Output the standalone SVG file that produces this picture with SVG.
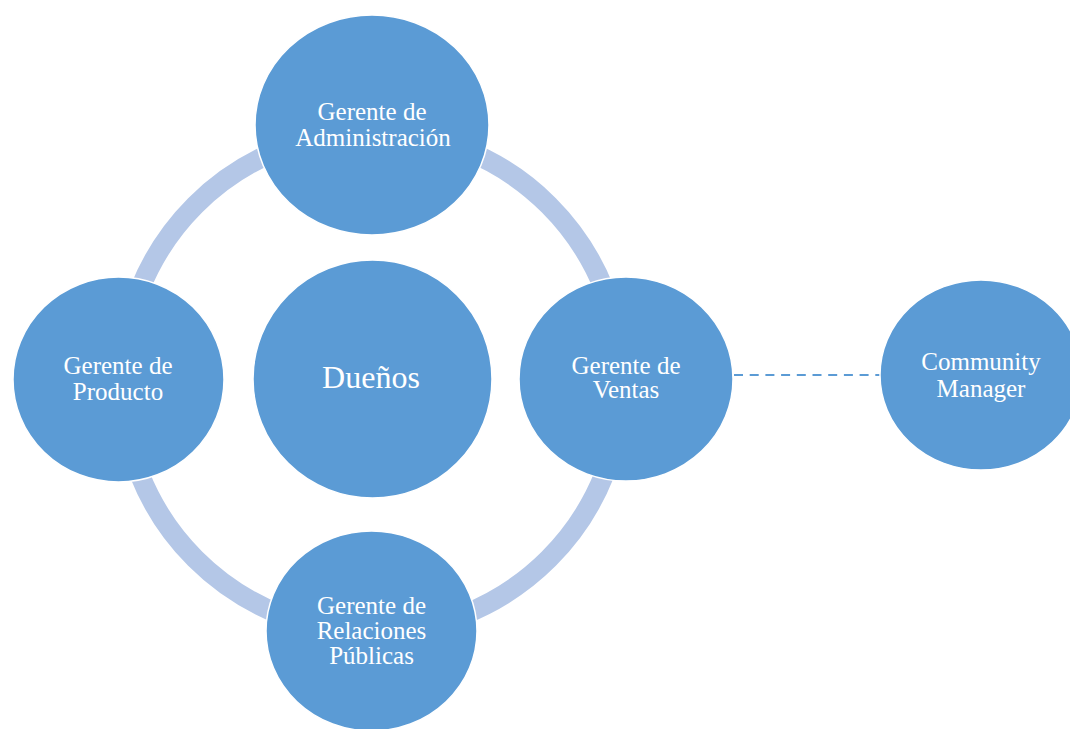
<svg xmlns="http://www.w3.org/2000/svg" width="1070" height="729" viewBox="0 0 1070 729">
  <style>
    .node { fill: #5b9bd5; stroke: #ffffff; stroke-width: 1.5; }
    .label { fill: #ffffff; font-family: "Liberation Serif", "Times New Roman", serif; font-size: 25px; text-anchor: middle; }
    .big { font-size: 32px; }
    .ring { fill: none; stroke: #b4c7e7; stroke-width: 20; }
    .dash { fill: none; stroke: #5b9bd5; stroke-width: 2; stroke-dasharray: 9 6.7; }
  </style>
  <rect width="1070" height="729" fill="#ffffff"/>

  <!-- connectors: the cycle ring and the dashed link to the outside node -->
  <g id="connectors">
    <circle class="ring" cx="372" cy="382" r="250"/>
    <line class="dash" x1="734" y1="375" x2="880" y2="375"/>
  </g>

  <g id="node-admin">
    <ellipse class="node" cx="372" cy="125" rx="117" ry="110"/>
    <text class="label" x="372" y="119.5">Gerente de</text>
    <text class="label" x="373" y="145.5">Administración</text>
  </g>

  <g id="node-producto">
    <ellipse class="node" cx="118.5" cy="379.5" rx="105.5" ry="102.5"/>
    <text class="label" x="118" y="374">Gerente de</text>
    <text class="label" x="118" y="399.5">Producto</text>
  </g>

  <g id="node-duenos">
    <ellipse class="node" cx="372.5" cy="379" rx="119.5" ry="119"/>
    <text class="label big" x="371" y="388">Dueños</text>
  </g>

  <g id="node-ventas">
    <ellipse class="node" cx="626" cy="379" rx="107" ry="102"/>
    <text class="label" x="626" y="373.5">Gerente de</text>
    <text class="label" x="626" y="398">Ventas</text>
  </g>

  <g id="node-rrpp">
    <ellipse class="node" cx="371.5" cy="631" rx="105.5" ry="100"/>
    <text class="label" x="371.5" y="613.5">Gerente de</text>
    <text class="label" x="371.5" y="638.5">Relaciones</text>
    <text class="label" x="371.5" y="664">Públicas</text>
  </g>

  <g id="node-community">
    <ellipse class="node" cx="981" cy="375" rx="101" ry="95"/>
    <text class="label" x="981" y="369.5">Community</text>
    <text class="label" x="981" y="396.5">Manager</text>
  </g>
</svg>
